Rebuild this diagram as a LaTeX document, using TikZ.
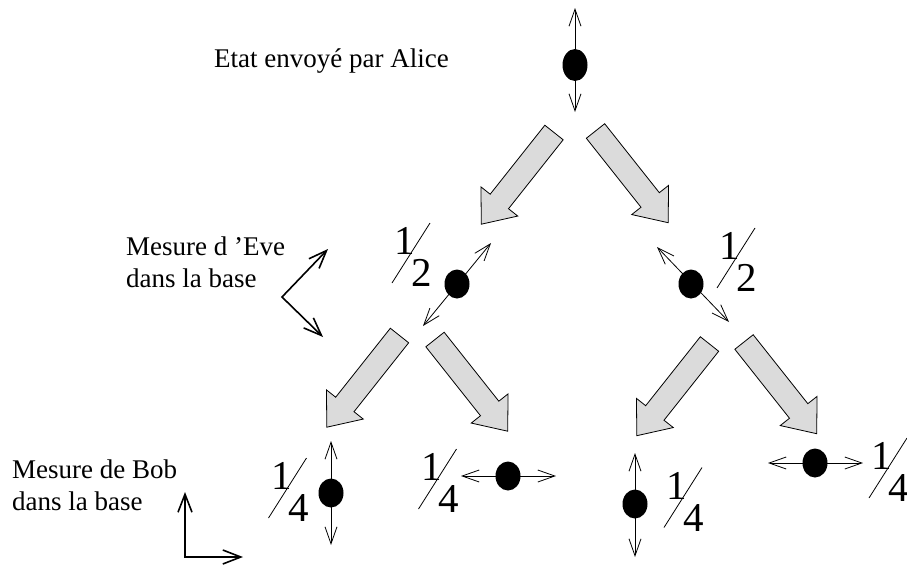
\documentclass[tikz,border=0pt]{standalone}
\usepackage{fontspec}
\setmainfont{Liberation Serif}
\usetikzlibrary{arrows.meta,shapes,calc}

\newcommand{\bigarrow}[2]{%
  \draw[bigarr, shift={#1}, rotate=#2] (0,-11.7) -- (88,-11.7) -- (88,-23.5) -- (117,0)
    -- (88,23.5) -- (88,11.7) -- (0,11.7) -- cycle;}
\newcommand{\frc}[3]{%
  \path (#2) +(-6,-12) node[digit] (#1n) {1} +(11,20) node[digit] (#1d) {#3}
    +(-19,30) coordinate (#1s) +(19,-30) coordinate (#1e);
  \draw[slash] (#1s) -- (#1e);}

\begin{document}
\begin{tikzpicture}[x=1pt,y=-1pt,
    >={Straight Barb[length=17pt,width=12pt]},
    dot/.style={ellipse, fill=black, inner sep=0pt, minimum width=25pt, minimum height=29pt},
    pol/.style={<->, line width=0.8pt},
    basis/.style={<->, line width=1.6pt, >={Straight Barb[length=18pt,width=14pt]}},
    bigarr/.style={draw=black, fill=black!14, line width=0.8pt},
    digit/.style={inner sep=0pt, font=\fontsize{41}{41}\selectfont},
    slash/.style={line width=0.8pt},
    lbl/.style={inner sep=0pt, font=\fontsize{27}{32}\selectfont, align=left}]
	\useasboundingbox (0,0) rectangle (907,565);

	% labels
	\node[lbl, anchor=base west] (alice) at (214,67) {Etat envoyé par Alice};
	\node[lbl, anchor=base west] (eve) at (126,287) {Mesure d 'Eve\\dans la base};
	\node[lbl, anchor=base west] (bob) at (12,510) {Mesure de Bob\\dans la base};

	% bases
	\path (282,297) coordinate (eO) (328,249) coordinate (eX) (323,337) coordinate (eY)
		(185,557) coordinate (bO) (185,492) coordinate (bY) (243,557) coordinate (bX);
	\draw[basis] (eX) -- (eO) -- (eY);
	\draw[basis] (bY) -- (bO) -- (bX);

	% big arrows
	\bigarrow{(554,132.5)}{-128.4}
	\bigarrow{(595.5,131)}{-51.6}
	\bigarrow{(399.5,335.5)}{-128.4}
	\bigarrow{(435,339.5)}{-51.6}
	\bigarrow{(709.5,344)}{-128.4}
	\bigarrow{(744,342)}{-51.6}

	% polarisations
	\path (575,8) coordinate (pA1) (575,112) coordinate (pA2)
		(491,243) coordinate (pE1) (423,326) coordinate (pE2)
		(657,247) coordinate (pF1) (729,322) coordinate (pF2)
		(331,441) coordinate (pB1) (331,545) coordinate (pB2)
		(461,476) coordinate (pC1) (556,476) coordinate (pC2)
		(635,453) coordinate (pD1) (635,557) coordinate (pD2)
		(768,463) coordinate (pG1) (863,463) coordinate (pG2);
	\draw[pol] (pA1) -- (pA2);
	\draw[pol] (pE1) -- (pE2);
	\draw[pol] (pF1) -- (pF2);
	\draw[pol] (pB1) -- (pB2);
	\draw[pol] (pC1) -- (pC2);
	\draw[pol] (pD1) -- (pD2);
	\draw[pol] (pG1) -- (pG2);

	\path (575,65) node[dot, minimum height=32pt] (sA) {}
		(457,284) node[dot] (sE) {}
		(691,284) node[dot] (sF) {}
		(331,493) node[dot] (sB) {}
		(508,476) node[dot] (sC) {}
		(635,504) node[dot] (sD) {}
		(815,463) node[dot] (sG) {};

	% probabilities
	\frc{qE}{411,253}{2}
	\frc{qF}{736,258}{2}
	\frc{qB}{287.5,488}{4}
	\frc{qC}{437.5,479}{4}
	\frc{qD}{683,497.5}{4}
	\frc{qG}{888,468}{4}
\end{tikzpicture}
\end{document}
